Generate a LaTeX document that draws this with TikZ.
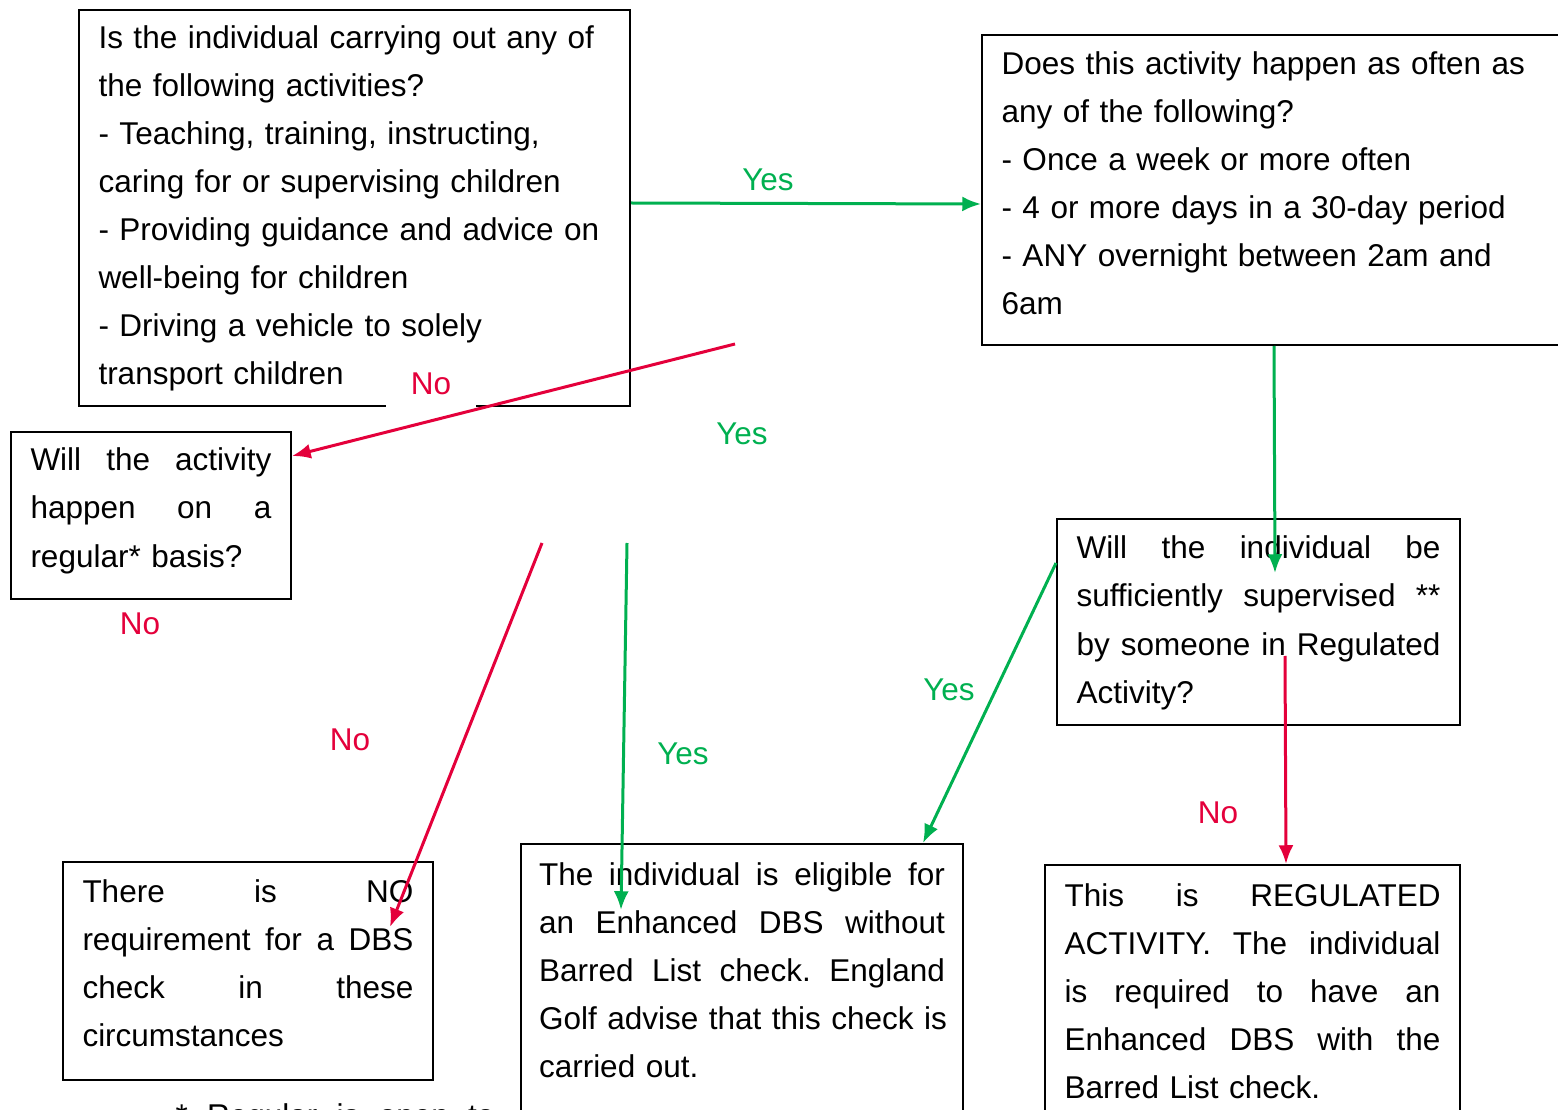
\documentclass[tikz,border=0pt]{standalone}
\usepackage{fontspec}
\setmainfont{Liberation Sans}
\usepackage{xcolor}
\usetikzlibrary{positioning,arrows.meta,calc}
\definecolor{yesc}{HTML}{00B050}
\definecolor{noc}{HTML}{E4003B}

\begin{document}
\begin{tikzpicture}[x=0.4pt,y=-0.4pt,font=\fontsize{12.6}{19.2}\selectfont,>={Latex[length=7.5pt,width=6pt]}]
\tikzstyle{b}=[draw,line width=0.8pt,anchor=north west,align=left,inner xsep=7.8pt,inner ysep=0pt,
  execute at begin node={\hyphenpenalty=10000\exhyphenpenalty=10000}]
\tikzstyle{lab}=[inner sep=1pt]
\tikzstyle{ya}=[->,yesc,line width=1.2pt]
\tikzstyle{na}=[->,noc,line width=1.2pt]
\useasboundingbox (0,0) rectangle (1558,1110);
% question boxes
\node[b,text width=204.8pt,text height=15.6pt,text depth=142.8pt] (act) at (78,9) {Is the individual carrying out any of\\ the following activities?\\ - Teaching, training, instructing,\\ caring for or supervising children\\ - Providing guidance and advice on\\ well-being for children\\ - Driving a vehicle to solely\\ transport children};
\node[b,text width=232pt,text height=16pt,text depth=108pt] (freq) at (981,34) {Does this activity happen as often as\\ any of the following?\\ - Once a week or more often\\ - 4 or more days in a 30-day period\\ - ANY overnight between 2am and\\ 6am};
\node[b,text width=96.4pt,text height=15.6pt,text depth=51.2pt] (reg) at (10,431) {Will~\hfill the~\hfill activity\\ happen~\hfill on~\hfill a\\ regular* basis?};
\node[b,text width=145.6pt,text height=16pt,text depth=66.4pt] (sup) at (1056,518) {Will~\hfill the~\hfill individual~\hfill be\\ sufficiently~\hfill supervised~\hfill **\\ by~\hfill someone~\hfill in~\hfill Regulated\\ Activity?};
% outcome boxes
\node[b,text width=132.4pt,text height=16pt,text depth=71.2pt] (none) at (62,861) {There~\hfill is~\hfill NO\\ requirement~\hfill for~\hfill a~\hfill DBS\\ check~\hfill in~\hfill these\\ circumstances};
\node[b,inner xsep=7.2pt,text width=162.4pt,text height=16.4pt,text depth=102.4pt] (enh) at (520,843) {The~\hfill individual~\hfill is~\hfill eligible~\hfill for\\ an~\hfill Enhanced~\hfill DBS~\hfill without\\ Barred~\hfill List~\hfill check.~\hfill England\\ Golf~\hfill advise~\hfill that~\hfill this~\hfill check~\hfill is\\ carried out.};
\node[b,text width=150.4pt,text height=16.4pt,text depth=98pt] (ra) at (1044,864) {This~\hfill is~\hfill REGULATED\\ ACTIVITY.~\hfill The~\hfill individual\\ is~\hfill required~\hfill to~\hfill have~\hfill an\\ Enhanced~\hfill DBS~\hfill with~\hfill the\\ Barred List check.};
\node[anchor=base west,inner sep=0pt,text width=127.6pt,align=left] (fn) at (175,1126) {*~\hfill Regular~\hfill is~\hfill open~\hfill to};
% labels
\node[lab,yesc] (y1) at (768,180) {Yes};
\node[lab,noc,fill=white,inner xsep=10pt,inner ysep=8pt] (n1) at (431,384) {No};
\node[lab,yesc] (y2) at (742,434) {Yes};
\node[lab,noc] (n2) at (140,624) {No};
\node[lab,noc] (n3) at (350,740) {No};
\node[lab,yesc] (y3) at (683,754) {Yes};
\node[lab,yesc] (y4) at (949,690) {Yes};
\node[lab,noc] (n4) at (1218,813) {No};
% connectors
\coordinate (n1s) at (735,344);
\coordinate (n2s) at (542,543);
\coordinate (n2e) at (390,927);
\coordinate (y2s) at (627,543);
\coordinate (y2e) at (621,910);
\coordinate (y3e) at (1275,573);
\coordinate (n4s) at (1285,656);
\draw[ya] ($(act.east)+(0,-5)$) -- ($(freq.north west)+(0,170)$);
\draw[na] (n1s) -- ($(reg.north east)+(0,25)$);
\draw[na] (n2s) -- (n2e);
\draw[ya] (y2s) -- (y2e);
\draw[ya] ($(freq.south west)+(293,0)$) -- (y3e);
\draw[ya] ($(sup.north west)+(0,45)$) -- ($(enh.north east)+(-41,0)$);
\draw[na] (n4s) -- ($(ra.north west)+(242,0)$);
\end{tikzpicture}
\end{document}
